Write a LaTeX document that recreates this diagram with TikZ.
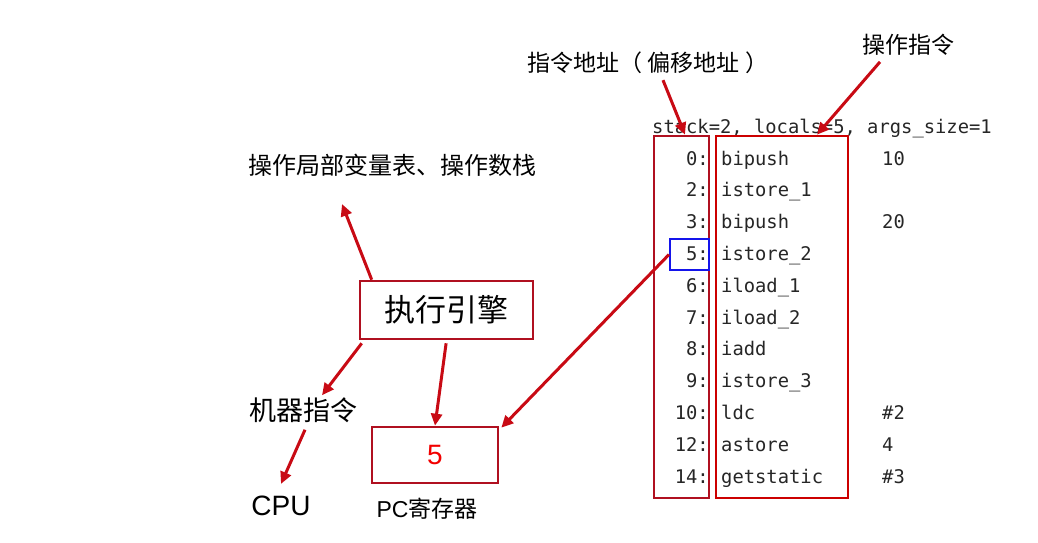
\documentclass[tikz,border=0pt]{standalone}
\usepackage{fontspec}
\setmainfont{Liberation Sans}
\setmonofont{DejaVu Sans Mono}
\newfontfamily\cjk{Noto Sans CJK SC}
\usetikzlibrary{arrows.meta}
\definecolor{boxred}{RGB}{176,16,32}
\definecolor{linered}{RGB}{204,0,0}
\definecolor{arrred}{RGB}{200,10,20}
\definecolor{curblue}{RGB}{20,20,235}
\tikzset{
  lbl/.style={inner sep=0pt, font=\cjk\fontsize{24}{28}\selectfont},
  code/.style={inner sep=0pt, font=\ttfamily\fontsize{18.8}{22}\selectfont, text=black!85},
  regbox/.style={draw=boxred, line width=2.6pt, inner sep=0pt},
  arr/.style={draw=arrred, line width=3pt, -{Triangle[length=12pt,width=11pt]}}
}
\begin{document}
\begin{tikzpicture}[x=1pt,y=-1pt]
    \useasboundingbox (0,0) rectangle (1038,543);
    \node[lbl, font=\cjk\fontsize{23}{28}\selectfont] (addr) at (648,63) {指令地址（ 偏移地址 ）};
    \node[lbl, font=\cjk\fontsize{23}{28}\selectfont] (opins) at (908,45) {操作指令};
    \node[code, anchor=base west] (hdr) at (652,133) {stack=2, locals=5, args\_size=1};
    \foreach \off/\ins/\arg [count=\i] in {0/bipush/10, 2/istore\_1/, 3/bipush/20, 5/istore\_2/,
        6/iload\_1/, 7/iload\_2/, 8/iadd/, 9/istore\_3/, 10/ldc/\#2, 12/astore/4, 14/getstatic/\#3}
    {
        \node[code, anchor=base east] (off\i) at (709,165+31.8*\i-31.8) {\off:};
        \node[code, anchor=base west] (ins\i) at (721,165+31.8*\i-31.8) {\ins};
        \node[code, anchor=base west] (arg\i) at (882,165+31.8*\i-31.8) {\arg};
    }
    \node[regbox, minimum width=55, minimum height=362] (offbox) at (681.5,317) {};
    \node[regbox, draw=linered, minimum width=132, minimum height=362] (insbox) at (782,317) {};
    \node[draw=curblue, line width=2pt, inner sep=0pt, minimum width=39, minimum height=31] (cur) at (689.5,254.5) {};
    \node[regbox, minimum width=173, minimum height=58, font=\cjk\fontsize{31}{34}\selectfont] (eng) at (446.5,310) {执行引擎};
    \node[regbox, minimum width=126, minimum height=56, text=red!95!black, font=\fontsize{28}{30}\selectfont] (pc) at (435,455) {5};
    \node[lbl] (frame) at (392,165) {操作局部变量表、操作数栈};
    \node[lbl, font=\cjk\fontsize{27}{30}\selectfont] (mach) at (303,410) {机器指令};
    \node[inner sep=0pt, font=\fontsize{28}{30}\selectfont] (cpu) at (281,506) {CPU};
    \node[inner sep=0pt, font=\fontsize{23}{26}\selectfont] (pcname) at (427,509) {PC\cjk 寄存器};
    \coordinate (up) at (342,204);
    \draw[arr] ([xshift=15pt,yshift=-6pt]addr.south) -- ([xshift=3.5pt]offbox.north);
    \draw[arr] ([xshift=-28pt,yshift=-6pt]opins.south) -- ([xshift=35pt]insbox.north);
    \draw[arr] (cur.west) -- ([xshift=2pt,yshift=-2pt]pc.north east);
    \draw[arr] ([xshift=13pt]eng.north west) -- (up);
    \draw[arr] ([xshift=3pt,yshift=-3pt]eng.south west) -- ([xshift=19pt,yshift=2pt]mach.north);
    \draw[arr] ([xshift=2pt,yshift=-7pt]mach.south) -- ([yshift=12pt]cpu.north);
    \draw[arr, shorten <=3pt] (eng.south) -- (pc.north);
\end{tikzpicture}
\end{document}
